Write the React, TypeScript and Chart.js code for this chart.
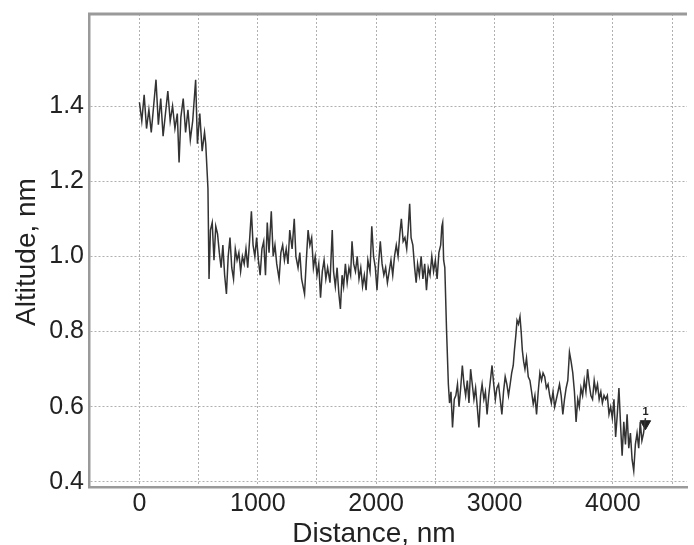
import React, { useEffect, useRef } from "react";
import { Chart, registerables } from "chart.js";

Chart.register(...registerables);

// Profile: distance (nm) vs altitude (nm)
const distances = [
  0, 20, 40, 60, 80, 100, 120, 140, 160, 180, 200, 220, 240, 260, 280, 300, 320, 335, 350, 370,
  390, 410, 430, 450, 475, 490, 510, 530, 550, 560, 579, 588, 600, 615, 630, 645, 660, 675, 690, 705,
  720, 735, 750, 765, 780, 795, 810, 825, 840, 855, 870, 885, 900, 915, 930, 946, 960, 975, 990, 1005,
  1020, 1035, 1050, 1065, 1080, 1095, 1114, 1130, 1145, 1160, 1180, 1195, 1210, 1225, 1240, 1255, 1270, 1290, 1308, 1322,
  1340, 1355, 1370, 1395, 1410, 1425, 1440, 1455, 1470, 1485, 1500, 1515, 1530, 1545, 1560, 1575, 1590, 1610, 1629, 1640,
  1655, 1670, 1685, 1698, 1712, 1725, 1740, 1755, 1770, 1784, 1796, 1810, 1825, 1840, 1855, 1870, 1885, 1900, 1915, 1930,
  1948, 1963, 1978, 1993, 2007, 2020, 2035, 2050, 2065, 2080, 2095, 2110, 2125, 2140, 2155, 2170, 2185, 2200, 2213, 2228,
  2243, 2258, 2270, 2283, 2295, 2310, 2325, 2338, 2350, 2365, 2380, 2395, 2410, 2425, 2440, 2455, 2470, 2485, 2500, 2515,
  2530, 2545, 2555, 2562, 2570, 2580, 2595, 2610, 2620, 2632, 2645, 2660, 2673, 2687, 2700, 2714, 2728, 2742, 2756, 2770,
  2784, 2798, 2812, 2826, 2840, 2854, 2868, 2882, 2895, 2910, 2923, 2937, 2951, 2965, 2979, 2993, 3007, 3020, 3034, 3048,
  3062, 3076, 3090, 3104, 3118, 3132, 3145, 3158, 3168, 3180, 3190, 3202, 3215, 3225, 3235, 3246, 3257, 3270, 3285, 3299,
  3313, 3327, 3341, 3355, 3369, 3383, 3397, 3410, 3424, 3438, 3452, 3466, 3480, 3494, 3508, 3522, 3536, 3549, 3563, 3577,
  3591, 3605, 3619, 3633, 3647, 3661, 3675, 3689, 3703, 3716, 3730, 3744, 3758, 3772, 3786, 3800, 3814, 3828, 3842, 3856,
  3870, 3884, 3898, 3911, 3925, 3939, 3953, 3967, 3981, 3995, 4009, 4023, 4037, 4051, 4065, 4078, 4092, 4106, 4120, 4134,
  4148, 4162, 4176, 4190, 4204, 4218, 4231, 4245, 4259, 4275,
];

const altitudes = [
  1.41, 1.36, 1.43, 1.34, 1.39, 1.33, 1.40, 1.47, 1.35, 1.42, 1.32, 1.38, 1.44, 1.36, 1.40, 1.34, 1.38, 1.25, 1.37, 1.42,
  1.33, 1.39, 1.31, 1.36, 1.47, 1.30, 1.38, 1.28, 1.33, 1.30, 1.18, 0.94, 1.07, 1.09, 0.99, 1.08, 1.06, 1.01, 0.97, 1.03,
  0.95, 0.90, 1.00, 1.05, 0.97, 0.94, 1.02, 0.99, 1.01, 0.96, 1.00, 0.98, 1.02, 0.97, 1.04, 1.12, 1.03, 1.00, 1.05, 0.99,
  0.95, 1.02, 1.04, 0.95, 1.09, 1.01, 1.12, 1.00, 1.03, 0.98, 0.94, 1.01, 1.03, 0.99, 1.02, 0.98, 1.07, 1.02, 1.10, 1.00,
  0.97, 1.01, 0.94, 0.90, 0.99, 1.07, 1.03, 1.05, 0.97, 1.00, 0.95, 0.98, 0.89, 0.96, 0.99, 0.94, 0.97, 0.93, 1.07, 0.96,
  0.92, 0.97, 0.90, 0.86, 0.95, 0.92, 0.98, 0.93, 0.97, 0.95, 1.04, 0.98, 0.96, 1.00, 0.94, 0.97, 0.92, 0.95, 0.91, 0.99,
  0.96, 1.08, 1.00, 0.97, 0.91, 0.98, 1.04, 0.98, 0.95, 0.97, 0.93, 0.96, 0.99, 0.95, 1.00, 1.03, 1.00, 1.06, 1.10, 1.04,
  1.05, 1.02, 1.07, 1.14, 1.05, 1.03, 0.97, 0.93, 0.98, 0.95, 1.00, 0.94, 0.98, 0.91, 0.97, 0.95, 1.00, 0.96, 0.99, 0.94,
  1.01, 1.03, 1.08, 1.09, 0.99, 0.97, 0.80, 0.66, 0.61, 0.64, 0.545, 0.62, 0.63, 0.66, 0.60, 0.65, 0.71, 0.66, 0.63, 0.67,
  0.61, 0.70, 0.66, 0.62, 0.65, 0.60, 0.545, 0.63, 0.66, 0.62, 0.64, 0.58, 0.63, 0.67, 0.71, 0.66, 0.62, 0.65, 0.66, 0.62,
  0.58, 0.64, 0.68, 0.66, 0.63, 0.66, 0.69, 0.71, 0.75, 0.79, 0.83, 0.82, 0.84, 0.80, 0.75, 0.72, 0.70, 0.73, 0.68, 0.67,
  0.64, 0.607, 0.63, 0.58, 0.64, 0.69, 0.67, 0.69, 0.68, 0.65, 0.66, 0.63, 0.61, 0.64, 0.60, 0.62, 0.64, 0.66, 0.63, 0.58,
  0.62, 0.65, 0.67, 0.745, 0.72, 0.69, 0.64, 0.56, 0.62, 0.60, 0.65, 0.63, 0.67, 0.64, 0.70, 0.66, 0.63, 0.62, 0.67, 0.64,
  0.66, 0.62, 0.64, 0.61, 0.63, 0.62, 0.63, 0.58, 0.60, 0.57, 0.62, 0.52, 0.58, 0.65, 0.55, 0.47, 0.56, 0.50, 0.58, 0.49,
  0.53, 0.46, 0.43, 0.50, 0.53, 0.49, 0.56, 0.51, 0.53, 0.57,
];

// Cursor marker "1" at the end of the profile
const markerX = [4275];
const markerY = [0.555];
const markerLabels = ["1"];

// Axis ticks
const xTicks = [0, 500, 1000, 1500, 2000, 2500, 3000, 3500, 4000, 4500];
const yTicks = [0.4, 0.6, 0.8, 1.0, 1.2, 1.4];
const xTitle = "Distance, nm";
const yTitle = "Altitude, nm";

const FONT = '"Liberation Sans", Arial, sans-serif';

const framePlugin = {
  id: "frame",
  afterDraw(chart: any) {
    const { ctx, chartArea } = chart;
    const { left, top, right } = chartArea;
    ctx.save();
    // top border of the frame
    ctx.strokeStyle = "#9a9a9a";
    ctx.lineWidth = 3;
    ctx.setLineDash([]);
    ctx.beginPath();
    ctx.moveTo(left - 1, top);
    ctx.lineTo(right, top);
    ctx.stroke();

    // axis titles
    ctx.fillStyle = "#222";
    ctx.font = `28px ${FONT}`;
    ctx.textAlign = "center";
    ctx.textBaseline = "alphabetic";
    ctx.fillText(xTitle, 374, 542);

    ctx.save();
    ctx.translate(35, 252);
    ctx.rotate(-Math.PI / 2);
    ctx.fillText(yTitle, 0, 0);
    ctx.restore();

    // marker label
    const xs = chart.scales.x;
    const ys = chart.scales.y;
    ctx.font = `bold 11px ${FONT}`;
    ctx.textBaseline = "bottom";
    markerX.forEach((mx, i) => {
      const px = xs.getPixelForValue(mx);
      const py = ys.getPixelForValue(markerY[i]);
      ctx.fillText(markerLabels[i], px, py - 6);
    });
    ctx.restore();
  },
};

export default function App() {
  const canvasRef = useRef<HTMLCanvasElement | null>(null);

  useEffect(() => {
    if (!canvasRef.current) return;
    const points = distances.map((d, i) => ({ x: d, y: altitudes[i] }));
    const markers = markerX.map((d, i) => ({ x: d, y: markerY[i] }));
    const chart = new Chart(canvasRef.current, {
      type: "line",
      data: {
        datasets: [
          {
            data: points,
            borderColor: "#333333",
            borderWidth: 1.5,
            pointRadius: 0,
            tension: 0,
            fill: false,
          },
          {
            data: markers,
            showLine: false,
            pointStyle: "triangle",
            rotation: 180,
            pointRadius: 6,
            backgroundColor: "#222",
            borderColor: "#222",
            borderWidth: 1,
          } as any,
        ],
      },
      options: {
        responsive: true,
        maintainAspectRatio: false,
        animation: false,
        layout: { padding: { top: 14, left: 0, right: 0, bottom: 0 } },
        plugins: {
          legend: { display: false },
          tooltip: { enabled: false },
        },
        scales: {
          x: {
            type: "linear",
            min: -426,
            max: 4626,
            afterFit: (scale: any) => {
              scale.height = 58;
              scale.paddingLeft = 0;
              scale.paddingRight = 0;
            },
            afterBuildTicks: (scale: any) => {
              scale.ticks = xTicks.map((v) => ({ value: v }));
            },
            ticks: {
              autoSkip: false,
              maxRotation: 0,
              padding: 2,
              color: "#222",
              font: { family: FONT, size: 25 },
              callback: (v: any) => (Number(v) % 1000 === 0 ? String(v) : ""),
            },
            grid: { color: "#b0b0b0", lineWidth: 1, drawTicks: false },
            border: { display: true, color: "#9a9a9a", width: 2.5, dash: [2, 2] },
          } as any,
          y: {
            type: "linear",
            min: 0.3867,
            max: 1.6447,
            afterFit: (scale: any) => {
              scale.width = 89;
              scale.paddingTop = 0;
              scale.paddingBottom = 0;
            },
            afterBuildTicks: (scale: any) => {
              scale.ticks = yTicks.map((v) => ({ value: v }));
            },
            ticks: {
              autoSkip: false,
              padding: 5,
              color: "#222",
              font: { family: FONT, size: 25 },
              callback: (v: any) => Number(v).toFixed(1),
            },
            grid: { color: "#b0b0b0", lineWidth: 1, drawTicks: false },
            border: { display: true, color: "#9a9a9a", width: 2.5, dash: [2, 2] },
          } as any,
        },
      },
      plugins: [framePlugin],
    });
    return () => chart.destroy();
  }, []);

  return (
    <div style={{ position: "fixed", left: 0, top: 0, width: 694, height: 545, background: "#fff" }}>
      <canvas ref={canvasRef} />
    </div>
  );
}
